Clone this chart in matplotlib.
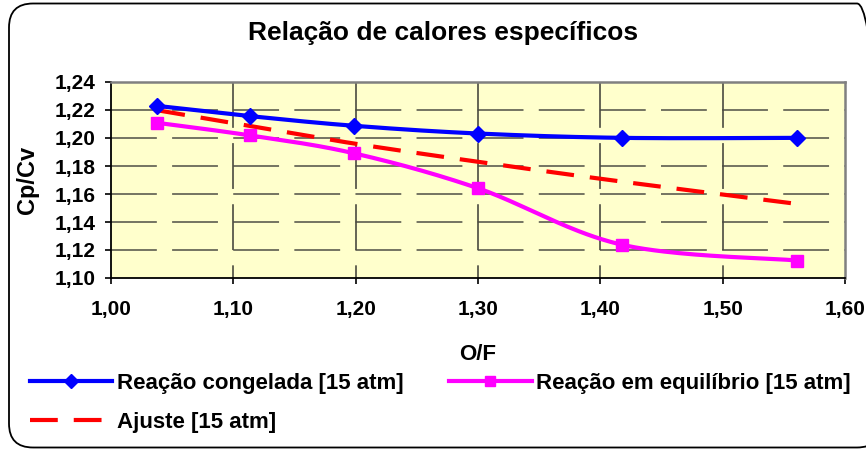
import numpy as np
import matplotlib.pyplot as plt
from matplotlib.patches import FancyBboxPatch
from matplotlib.lines import Line2D

plt.rcParams['font.family'] = ['Liberation Sans', 'DejaVu Sans']
plt.rcParams['font.weight'] = 'bold'
plt.rcParams['lines.scale_dashes'] = False

# O/F ratio and specific heat ratio values
of_ratio = [1.038, 1.114, 1.199, 1.300, 1.418, 1.561]
cp_cv_frozen = [1.2229, 1.2156, 1.2087, 1.2032, 1.2001, 1.2001]
cp_cv_equil = [1.2108, 1.2018, 1.1890, 1.1641, 1.1237, 1.1125]
cp_cv_fit = [1.2198, 1.2085, 1.1960, 1.1830, 1.1688, 1.1529]

x_ticks = [1.00, 1.10, 1.20, 1.30, 1.40, 1.50, 1.60]
y_ticks = [1.10, 1.12, 1.14, 1.16, 1.18, 1.20, 1.22, 1.24]

labels = ['Reação congelada [15 atm]', 'Reação em equilíbrio [15 atm]', 'Ajuste [15 atm]']


def smooth(x, y, n=40):
    # Catmull-Rom style bezier smoothing, like spreadsheet "smoothed line"
    p = np.column_stack([x, y])
    pts = np.vstack([p[0], p, p[-1]])
    t = np.linspace(0, 1, n)[:, None]
    out = []
    for i in range(1, len(pts) - 2):
        p0, p1, p2, p3 = pts[i - 1], pts[i], pts[i + 1], pts[i + 2]
        c1 = p1 + (p2 - p0) / 6
        c2 = p2 - (p3 - p1) / 6
        seg = ((1 - t) ** 3) * p1 + 3 * ((1 - t) ** 2) * t * c1 + 3 * (1 - t) * t ** 2 * c2 + t ** 3 * p2
        out.append(seg if i == 1 else seg[1:])
    out = np.vstack(out)
    return out[:, 0], out[:, 1]


fig = plt.figure(figsize=(8.66, 4.5), dpi=100)
ax = fig.add_axes([111 / 866, 1 - 278 / 450, 734 / 866, 196 / 450])
ax.set_facecolor('#FFFFCC')

# outer rounded frame, right side runs off the canvas
frame = FancyBboxPatch((0.09, 0.025), 8.72, 4.44, boxstyle='round,pad=0,rounding_size=0.24',
                       transform=fig.dpi_scale_trans, facecolor='none', edgecolor='black',
                       linewidth=1.3, zorder=0)
fig.add_artist(frame)

grid_dash = (0, (33, 11))
for yv in y_ticks[1:-1]:
    ax.axhline(yv, color='#5c5c50', lw=1.2, linestyle=grid_dash, zorder=1)
for xv in x_ticks[1:-1]:
    ax.axvline(xv, ymin=1, ymax=0, color='#4a4a40', lw=1.2, linestyle=grid_dash, zorder=1)

sx, sy = smooth(of_ratio, cp_cv_fit)
ax.plot(sx, sy, color='#FF0000', lw=3.0, linestyle=(0, (20, 11.5)), zorder=2)

sx, sy = smooth(of_ratio, cp_cv_equil)
ax.plot(sx, sy, color='#FF00FF', lw=3.0, zorder=3)
ax.plot(of_ratio, cp_cv_equil, linestyle='none', marker='s', ms=8.5, color='#FF00FF', zorder=4)

sx, sy = smooth(of_ratio, cp_cv_frozen)
ax.plot(sx, sy, color='#0000FF', lw=3.0, zorder=3)
ax.plot(of_ratio, cp_cv_frozen, linestyle='none', marker='D', ms=8.5, color='#0000FF', zorder=4)

ax.set_xlim(1.0, 1.6)
ax.set_ylim(1.10, 1.24)
ax.set_xticks(x_ticks)
ax.set_yticks(y_ticks)
ax.set_xticklabels([f'{v:.2f}'.replace('.', ',') for v in x_ticks])
ax.set_yticklabels([f'{v:.2f}'.replace('.', ',') for v in y_ticks])
ax.tick_params(axis='both', direction='out', length=4, width=1.2, labelsize=15, color='black')
ax.tick_params(axis='x', pad=12)
ax.tick_params(axis='y', pad=7)

for side in ['top', 'right']:
    ax.spines[side].set_color('#808080')
    ax.spines[side].set_linewidth(1.8)
for side in ['left', 'bottom']:
    ax.spines[side].set_color('black')
    ax.spines[side].set_linewidth(1.3)

fig.text(443 / 866, 1 - 33 / 450, 'Relação de calores específicos', ha='center', va='center',
         fontsize=19, fontweight='bold')
fig.text(478 / 866, 1 - 354 / 450, 'O/F', ha='center', va='center', fontsize=16, fontweight='bold')
fig.text(27 / 866, 1 - 180 / 450, 'Cp/Cv', ha='center', va='center', rotation=90,
         fontsize=17, fontweight='bold')

handles = [
    Line2D([], [], color='#0000FF', lw=3.0, marker='D', ms=7),
    Line2D([], [], color='#FF0000', lw=3.0, linestyle=(0, (20, 11.5))),
    Line2D([], [], color='#FF00FF', lw=3.0, marker='s', ms=7),
]
fig.legend(handles, [labels[0], labels[2], labels[1]], ncol=2, loc='upper left',
           bbox_to_anchor=(30 / 866, 1 - 373 / 450), frameon=False, fontsize=16,
           handlelength=3.7, handletextpad=0.22, columnspacing=2.05, labelspacing=0.8,
           borderaxespad=0, borderpad=0)

fig.savefig('out.png', dpi=100)
